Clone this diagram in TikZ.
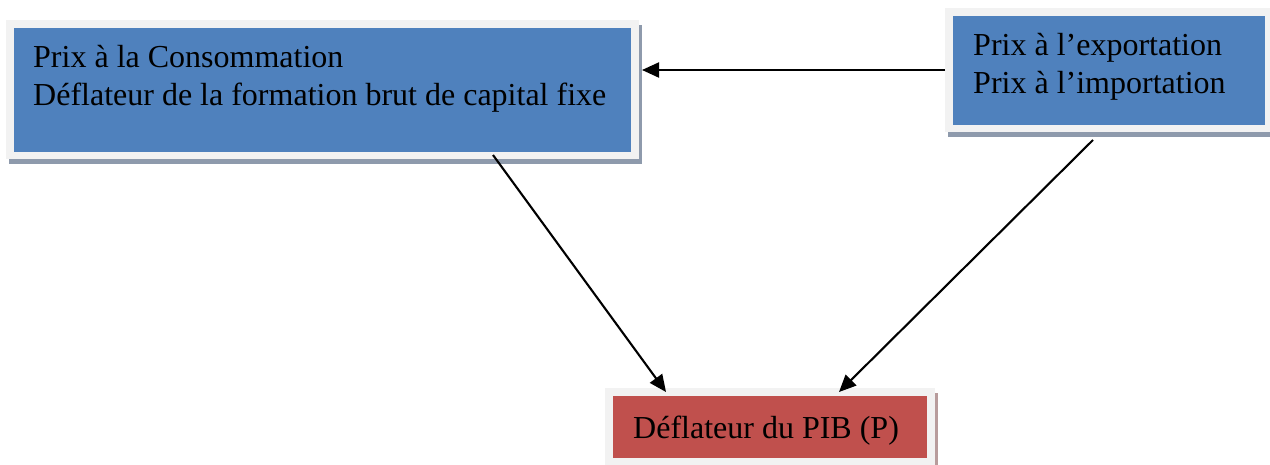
\documentclass[tikz,border=0pt]{standalone}
\usepackage{fontspec}
\setmainfont{Liberation Serif}
\usetikzlibrary{arrows.meta,shadows}
\definecolor{boxblue}{HTML}{4F81BD}
\definecolor{boxred}{HTML}{C0504D}
\definecolor{framegray}{HTML}{F2F2F2}
\definecolor{shadowblue}{HTML}{8E9AAC}
\definecolor{shadowred}{HTML}{B89C9C}
\tikzset{
  boxframe/.style 2 args={rectangle, inner sep=0pt, outer sep=0pt, fill=framegray,
    drop shadow={shadow xshift=3pt, shadow yshift=-5pt, fill=#2, opacity=1},
    path picture={\fill[#1] ([xshift=8pt,yshift=-8pt]path picture bounding box.north west)
      rectangle ([xshift=-8pt,yshift=7pt]path picture bounding box.south east);}},
  boxtext/.style={anchor=north west, inner sep=0pt, align=left,
    font=\fontsize{32}{38}\selectfont, text=black},
  arr/.style={line width=2.1pt, -{Triangle[length=17pt,width=15pt]}}
}
\begin{document}
\begin{tikzpicture}[x=1pt,y=1pt]
\useasboundingbox (0,0) rectangle (1270,-464);
\node[boxframe={boxblue}{shadowblue}, minimum width=633pt, minimum height=139pt] (b1) at (322.5,-89.5) {};
\node[boxframe={boxblue}{shadowblue}, minimum width=328pt, minimum height=124pt] (b2) at (1109,-70) {};
\node[boxframe={boxred}{shadowred}, minimum width=330pt, minimum height=77pt] (b3) at (770,-426.5) {};
\node[boxtext] (t1) at (33,-40.4) {\strut Prix à la Consommation\\Déflateur de la formation brut de capital fixe};
\node[boxtext] (t2) at (973,-28.4) {\strut Prix à l’exportation\\Prix à l’importation};
\node[boxtext] (t3) at (633,-411.4) {\strut Déflateur du PIB (P)};
\draw[arr, shorten >=3pt] (b2.west) -- (b2.west -| b1.east);
\draw[arr] ([xshift=170.5pt,yshift=4pt]b1.south) -- ([xshift=-104pt,yshift=-4pt]b3.north);
\draw[arr] ([xshift=-16pt,yshift=-8pt]b2.south) -- ([xshift=69pt,yshift=-4pt]b3.north);
\end{tikzpicture}
\end{document}
